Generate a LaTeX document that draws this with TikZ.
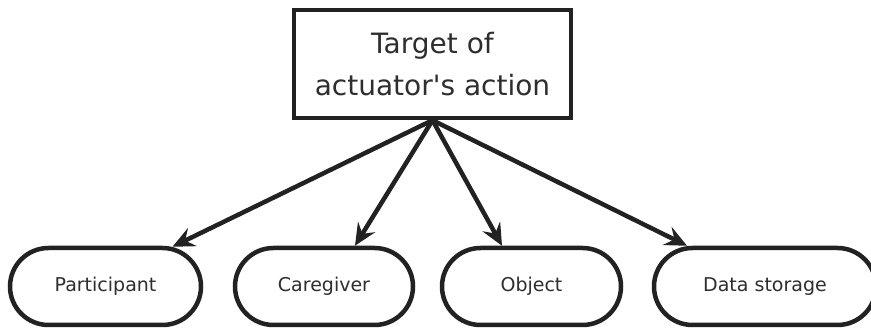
\documentclass[tikz,border=0pt]{standalone}
\usepackage{fontspec}
\setmainfont{DejaVu Sans}
\usetikzlibrary{arrows.meta,shapes.misc}
\definecolor{ink}{HTML}{222222}
\definecolor{txt}{HTML}{2E2E2E}
\begin{document}
\begin{tikzpicture}[x=1pt,y=1pt,
  targetbox/.style={draw=ink, line width=4.5pt, rectangle, inner sep=0pt,
    minimum width=277pt, minimum height=108pt, align=center, text=txt,
    font=\fontsize{28}{42}\selectfont},
  leafbox/.style={draw=ink, line width=4.5pt, rounded rectangle, inner sep=0pt,
    minimum height=77pt, text=txt, font=\fontsize{19}{23}\selectfont},
  link/.style={draw=ink, line width=4.5pt,
    -{Stealth[length=22pt, width=20pt, inset=8pt]}}]
\useasboundingbox (0,0) rectangle (871,329);
\fill[white] (0,0) rectangle (871,329);

% source of the action
\node[targetbox] (t) at (432.5,265) {Target of\\actuator\textquotesingle s action};

% possible targets
\node[leafbox, minimum width=191pt] (p) at (105.5,42.5) {Participant};
\node[leafbox, minimum width=178pt] (c) at (324,42.5) {Caregiver};
\node[leafbox, minimum width=179pt] (o) at (531.5,42.5) {Object};
\node[leafbox, minimum width=222pt] (d) at (765,42.5) {Data storage};

% arrows fanning out from the box
\draw[link] (t.south) -- ([xshift=67pt,yshift=-1pt]p.north);
\draw[link] (t.south) -- ([xshift=31pt]c.north);
\draw[link] (t.south) -- ([xshift=-29.5pt]o.north);
\draw[link] (t.south) -- ([xshift=-78pt]d.north);
\end{tikzpicture}
\end{document}
